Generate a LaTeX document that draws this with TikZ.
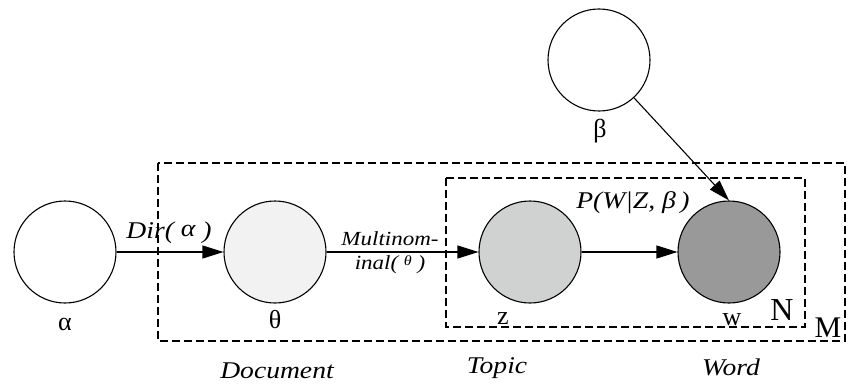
\documentclass[tikz,border=0pt]{standalone}
\usepackage{fontspec}
\setmainfont{Liberation Serif}
\usetikzlibrary{arrows.meta}

\definecolor{thetafill}{HTML}{F2F2F2}
\definecolor{zfill}{HTML}{D0D2D2}
\definecolor{wfill}{HTML}{999999}

% wider italic text, as in the figure
\newcommand{\widetext}[1]{\scalebox{1.15}[1]{#1}}

\begin{document}
\begin{tikzpicture}[
    x=1pt, y=-1pt,
    line width=1.1pt,
    var/.style={
      circle,
      draw,
      minimum size=102pt,
      inner sep=0pt
    },
    plate/.style={draw, dash pattern=on 8pt off 4pt},
    sym/.style={anchor=base, font=\fontsize{26}{26}\selectfont},
    tag/.style={anchor=base, font=\fontsize{24}{24}\selectfont\itshape},
    >={Triangle[length=21pt,width=13pt]}
  ]
    \useasboundingbox (0,0) rectangle (850,385);

    % Plates
    \draw[plate] (158,163) rectangle (845,341);
    \draw[plate] (446,178) rectangle (805,327);

    % Variables
    \node[var] (alpha) at (65,252) {};
    \node[var, fill=thetafill] (theta) at (275,252) {};
    \node[var, fill=zfill] (z) at (530,252) {};
    \node[var, fill=wfill] (w) at (729,252) {};
    \node[var] (beta) at (599,60) {};

    % Variable labels
    \node[sym] (alab)  at (65,330)  {α};
    \node[sym] (thlab) at (275,328) {θ};
    \node[sym] (blab)  at (600,137) {β};
    \node[sym] (zlab)  at (503,324) {z};
    \node[sym] (wlab)  at (732,325) {w};
    \node[sym, font=\fontsize{32}{32}\selectfont] (nlab) at (782,320) {N};
    \node[sym, font=\fontsize{30}{30}\selectfont] (mlab) at (828,337) {M};

    % Level names
    \node[tag] (doc)   at (277,378) {\widetext{Document}};
    \node[tag] (topic) at (497,373) {\widetext{Topic}};
    \node[tag] (word)  at (731,375) {\widetext{Word}};

    % Distributions
    \node[tag] (dir) at (169,238) {\widetext{Dir(\ \raisebox{2pt}{α}\ )}};
    \node[tag, anchor=center, align=center, font=\fontsize{20}{24}\selectfont\itshape] (mult) at (390,253)
      {\widetext{Multinom-}\\\widetext{inal(\ \raisebox{4pt}{\fontsize{14}{14}\selectfont θ}\ )}};
    \node[tag] (pw) at (633,208) {\widetext{P(W|Z, β\,)}};

    % Edges
    \draw[->] (alpha) -- (theta);
    \draw[->] (theta) -- (z);
    \draw[->] (z) -- (w);
    \draw[->] (beta) -- (w.north);

  \end{tikzpicture}
\end{document}
